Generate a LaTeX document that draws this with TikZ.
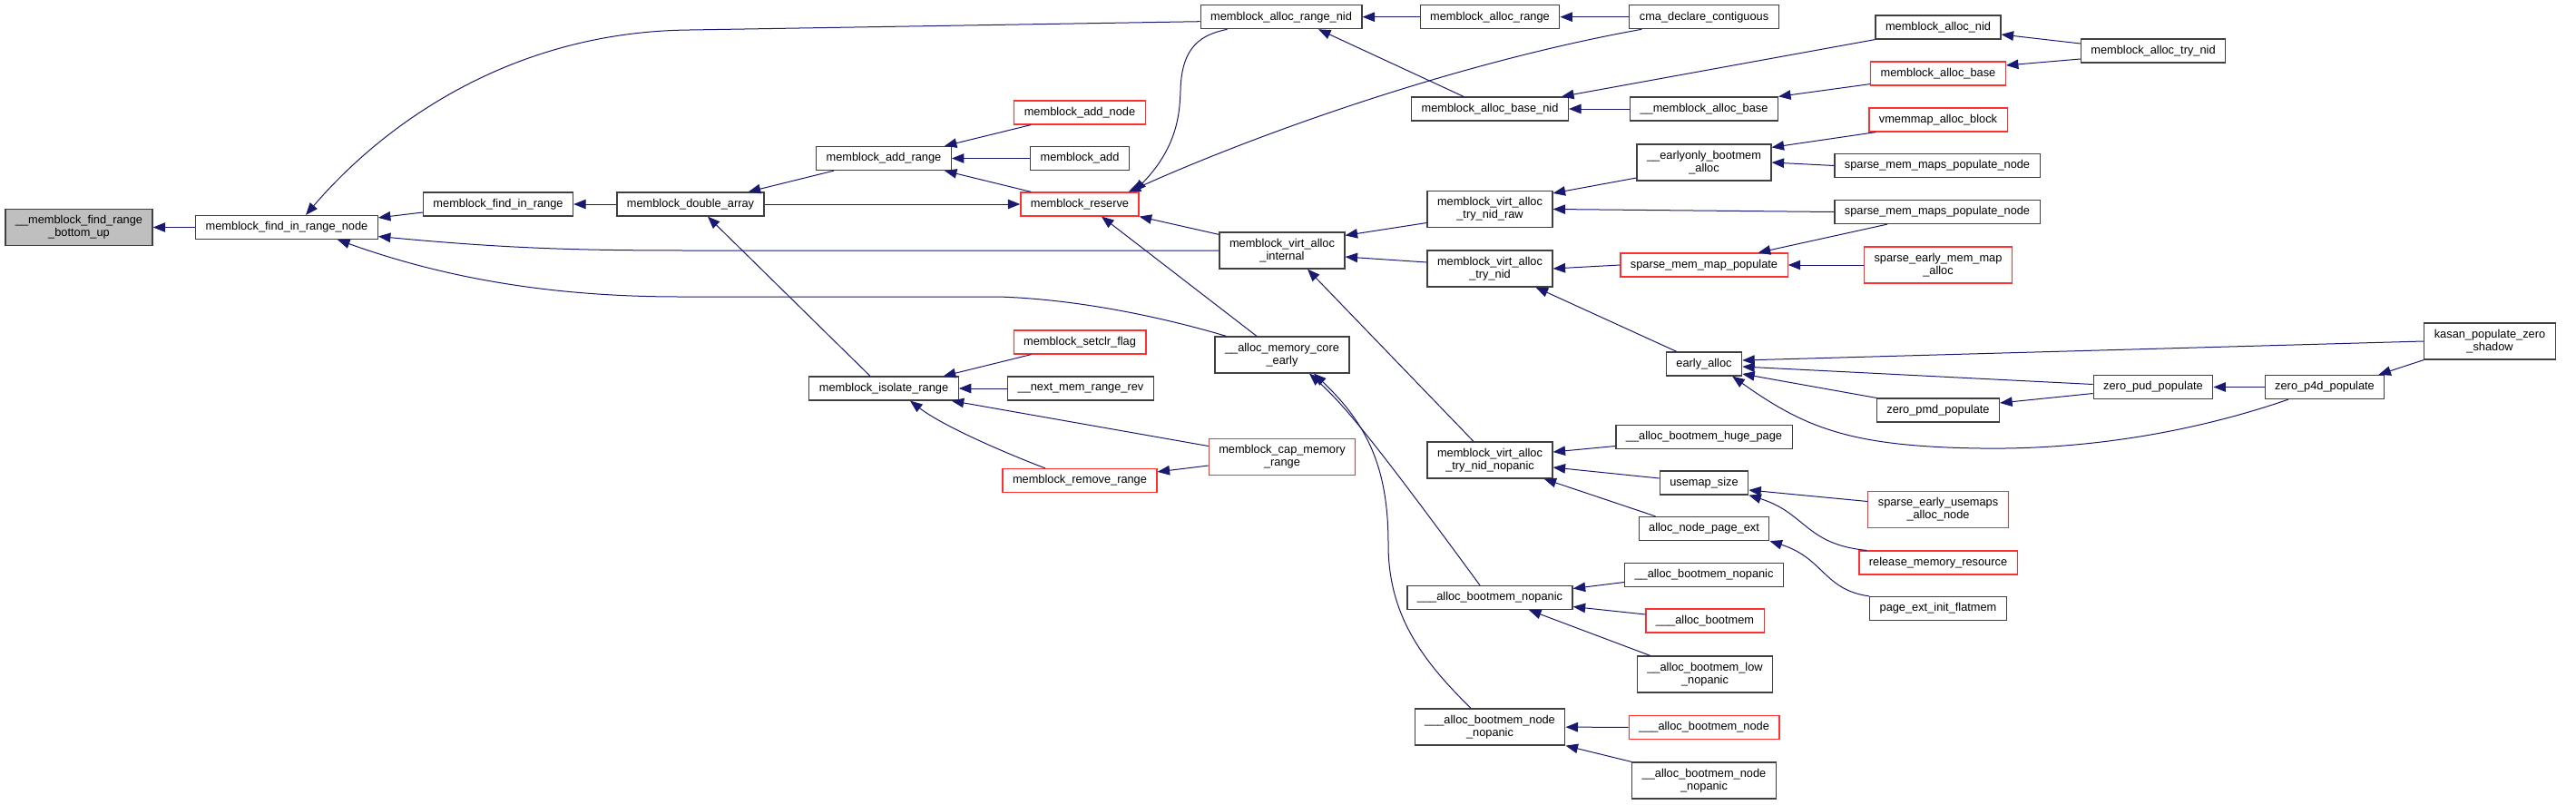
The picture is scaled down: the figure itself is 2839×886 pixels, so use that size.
\documentclass[tikz,border=0pt]{standalone}
\usepackage{fontspec}
\setmainfont{Liberation Sans}
\usepackage{tikz}
\usetikzlibrary{arrows.meta}

\definecolor{edgeblue}{HTML}{191970}
\definecolor{boxline}{HTML}{404040}
\definecolor{boxred}{HTML}{FF3030}
\definecolor{rootgray}{HTML}{BFBFBF}

\begin{document}
\begin{tikzpicture}[x=1pt, y=-1pt,
    fn/.style={draw=boxline, fill=white, line width=1.2pt, inner xsep=11pt, inner ysep=3pt,
        minimum height=26pt, align=center, font=\fontsize{12.8}{14}\selectfont},
    fn2/.style={fn, minimum height=40pt},
    redbox/.style={draw=boxred},
    root/.style={fill=rootgray},
    call/.style={draw=edgeblue, line width=1pt, {Triangle[length=13.5pt,width=10.5pt]}-}]
        \useasboundingbox (0,0) rectangle (2839,886);

        % Functions, column by column
        \node[fn2, root] (bu) at (87,250.5) {\_\_memblock\_find\_range\\\_bottom\_up};
        \node[fn] (frn) at (316,250.5) {memblock\_find\_in\_range\_node};
        \node[fn] (fir) at (549,225) {memblock\_find\_in\_range};
        \node[fn] (dbl) at (761,225) {memblock\_double\_array};
        \node[fn] (addrange) at (974,174.5) {memblock\_add\_range};
        \node[fn] (isolate) at (974,428) {memblock\_isolate\_range};
        \node[fn, redbox] (addnode) at (1190,124) {memblock\_add\_node};
        \node[fn] (add) at (1190,174.5) {memblock\_add};
        \node[fn, redbox] (reserve) at (1190,225) {memblock\_reserve};
        \node[fn, redbox] (setclr) at (1190,377) {memblock\_setclr\_flag};
        \node[fn] (nextmem) at (1191,428) {\_\_next\_mem\_range\_rev};
        \node[fn, redbox] (remove) at (1190,529.5) {memblock\_remove\_range};
        \node[fn] (arn) at (1412,18.7) {memblock\_alloc\_range\_nid};
        \node[fn2] (internal) at (1413,276) {memblock\_virt\_alloc\\\_internal};
        \node[fn2] (coreearly) at (1413,391) {\_\_alloc\_memory\_core\\\_early};
        \node[fn2, redbox] (cap) at (1413,503.5) {memblock\_cap\_memory\\\_range};
        \node[fn] (allocrange) at (1642,18.7) {memblock\_alloc\_range};
        \node[fn] (basenid) at (1642,120) {memblock\_alloc\_base\_nid};
        \node[fn2] (nidraw) at (1642,230.5) {memblock\_virt\_alloc\\\_try\_nid\_raw};
        \node[fn2] (trynid) at (1642,296) {memblock\_virt\_alloc\\\_try\_nid};
        \node[fn2] (nopanic) at (1642,507) {memblock\_virt\_alloc\\\_try\_nid\_nopanic};
        \node[fn] (abnl) at (1642,658.5) {\_\_\_alloc\_bootmem\_nopanic};
        \node[fn2] (abnnl) at (1642,801) {\_\_\_alloc\_bootmem\_node\\\_nopanic};
        \node[fn] (cma) at (1878,18.7) {cma\_declare\_contiguous};
        \node[fn] (mabunder) at (1878,120) {\_\_memblock\_alloc\_base};
        \node[fn2] (earlyonly) at (1878,179) {\_\_earlyonly\_bootmem\\\_alloc};
        \node[fn, redbox] (smp) at (1878,292) {sparse\_mem\_map\_populate};
        \node[fn] (earlyalloc) at (1878,401) {early\_alloc};
        \node[fn] (huge) at (1878,481.5) {\_\_alloc\_bootmem\_huge\_page};
        \node[fn] (usemap) at (1878,532) {usemap\_size};
        \node[fn] (pageext) at (1878,582.5) {alloc\_node\_page\_ext};
        \node[fn] (abnr) at (1878,633.5) {\_\_alloc\_bootmem\_nopanic};
        \node[fn, redbox] (ab) at (1879,684) {\_\_\_alloc\_bootmem};
        \node[fn2] (low) at (1879,743) {\_\_alloc\_bootmem\_low\\\_nopanic};
        \node[fn, redbox] (abnode) at (1878,801.5) {\_\_\_alloc\_bootmem\_node};
        \node[fn2] (abnnr) at (1878,860) {\_\_alloc\_bootmem\_node\\\_nopanic};
        \node[fn] (allocnid) at (2136,30) {memblock\_alloc\_nid};
        \node[fn, redbox] (mab) at (2136,81) {memblock\_alloc\_base};
        \node[fn, redbox] (vmemmap) at (2136,132) {vmemmap\_alloc\_block};
        \node[fn] (smpn1) at (2135,182.5) {sparse\_mem\_maps\_populate\_node};
        \node[fn] (smpn2) at (2135,233.5) {sparse\_mem\_maps\_populate\_node};
        \node[fn2, redbox] (semma) at (2136,292) {sparse\_early\_mem\_map\\\_alloc};
        \node[fn] (pmd) at (2136,452) {zero\_pmd\_populate};
        \node[fn2, redbox] (seuan) at (2136,561.5) {sparse\_early\_usemaps\\\_alloc\_node};
        \node[fn, redbox] (rmr) at (2136,620) {release\_memory\_resource};
        \node[fn] (pei) at (2136,670.5) {page\_ext\_init\_flatmem};
        \node[fn] (trynida) at (2373,56) {memblock\_alloc\_try\_nid};
        \node[fn] (pud) at (2373,426.5) {zero\_pud\_populate};
        \node[fn] (p4d) at (2562,426.5) {zero\_p4d\_populate};
        \node[fn2] (kasan) at (2744,376) {kasan\_populate\_zero\\\_shadow};

        % Calls into the find_in_range part
        \draw[call] (bu) -- (frn);
        \draw[call] ([yshift=-3pt]frn.north east) -- ([yshift=-9pt]fir.west);
        \draw[call] ([xshift=21pt]frn.north) .. controls (420,140) and (560,35) .. (760,33) -- ([yshift=-5pt]arn.west);
        \draw[call] ([yshift=-10pt]frn.east) .. controls (560,274) and (640,276) .. (760,276) -- (internal.west);
        \draw[call] ([xshift=56pt]frn.south) .. controls (500,310) and (620,327) .. (750,327) -- (1100,327)
            .. controls (1200,330) and (1300,355) .. ([xshift=13pt]coreearly.north west);
        \draw[call] (fir) -- (dbl);
        \draw[call] ([xshift=-18pt]dbl.north east) -- ([xshift=20pt]addrange.south west);
        \draw[call] ([xshift=19pt]dbl.south) -- ([xshift=-15pt]isolate.north);
        \draw[call] (reserve) -- (dbl);

        % memblock_add_range and memblock_reserve
        \draw[call] ([xshift=-8pt]addrange.north east) -- ([xshift=19pt]addnode.south west);
        \draw[call] (addrange) -- (add);
        \draw[call] ([xshift=-8pt]addrange.south east) -- ([xshift=12pt]reserve.north west);
        \draw[call] ([xshift=-6pt]reserve.north east) .. controls (1300,160) and (1300,120) .. (1301,100)
            .. controls (1302,50) and (1325,38) .. ([xshift=30pt]arn.south west);
        \draw[call] ([xshift=-12pt]reserve.north east) .. controls (1380,150) and (1600,70) .. ([xshift=14pt]cma.south west);
        \draw[call] (reserve.south east) -- ([yshift=-3pt]internal.north west);
        \draw[call] ([xshift=24pt]reserve.south) -- ([xshift=-28pt]coreearly.north);

        % memblock_alloc_range_nid side
        \draw[call] (arn) -- (allocrange);
        \draw[call] ([xshift=41pt]arn.south) -- ([xshift=-29pt]basenid.north);
        \draw[call] (allocrange) -- (cma);
        \draw[call] ([xshift=-8pt]basenid.north east) -- (allocnid.south west);
        \draw[call] (basenid) -- (mabunder);
        \draw[call] (mabunder.north east) -- ([yshift=2pt]mab.south west);
        \draw[call] ([yshift=-8pt]allocnid.east) -- ([yshift=8pt]trynida.west);
        \draw[call] ([yshift=9pt]mab.east) -- ([yshift=-9pt]trynida.west);

        % memblock_virt_alloc_internal side
        \draw[call] ([yshift=-4pt]internal.north east) -- ([yshift=-15pt]nidraw.west);
        \draw[call] ([yshift=-7pt]internal.east) -- ([yshift=7pt]trynid.west);
        \draw[call] ([xshift=28pt]internal.south) -- ([xshift=-18pt]nopanic.north);
        \draw[call] ([yshift=-3pt]nidraw.north east) -- ([yshift=-17pt]earlyonly.west);
        \draw[call] (nidraw.east) -- (smpn2.west);
        \draw[call] ([yshift=-4pt]earlyonly.north east) -- ([xshift=8pt]vmemmap.south west);
        \draw[call] (earlyonly.east) -- (smpn1.west);
        \draw[call] (trynid.east) -- (smp.west);
        \draw[call] ([xshift=-19pt]trynid.south east) -- ([xshift=12pt]earlyalloc.north west);
        \draw[call] ([xshift=-33pt]smp.north east) -- ([xshift=-55pt]smpn2.south);
        \draw[call] (smp) -- (semma);

        % early_alloc and the zero_*_populate chain
        \draw[call] ([yshift=4pt]earlyalloc.east) -- (kasan.west);
        \draw[call] ([yshift=-3pt]earlyalloc.east) -- ([yshift=3pt]pud.west);
        \draw[call] ([yshift=-11pt]earlyalloc.east) -- (pmd.north west);
        \draw[call] ([xshift=-11pt]earlyalloc.south east) .. controls (1990,472) and (2040,492) .. (2183,494)
            .. controls (2330,496) and (2450,465) .. ([xshift=-40pt]p4d.south);
        \draw[call] ([yshift=8pt]pmd.east) -- ([yshift=-7pt]pud.west);
        \draw[call] (pud) -- (p4d);
        \draw[call] ([xshift=-7pt]p4d.north east) -- (kasan.south west);

        % __alloc_memory_core_early callers
        \draw[call] ([xshift=30pt]coreearly.south) .. controls (1480,445) and (1510,480) .. ([xshift=-11pt]abnl.north);
        \draw[call] ([xshift=35pt]coreearly.south) .. controls (1510,470) and (1530,520) .. (1530,600)
            .. controls (1530,680) and (1570,730) .. ([xshift=-21pt]abnnl.north);

        % memblock_isolate_range callers
        \draw[call] (isolate) -- (nextmem);
        \draw[call] ([xshift=-17pt]isolate.north east) -- ([xshift=20pt]setclr.south west);
        \draw[call] ([xshift=-8pt]isolate.south east) -- ([yshift=12pt]cap.west);
        \draw[call] ([xshift=29pt]isolate.south) .. controls (1040,470) and (1110,500) .. ([xshift=-38pt]remove.north);
        \draw[call] ([yshift=-4pt]remove.north east) -- ([yshift=-9.5pt]cap.west);

        % memblock_virt_alloc_try_nid_nopanic callers
        \draw[call] ([yshift=9pt]nopanic.east) -- ([yshift=-10pt]huge.west);
        \draw[call] ([yshift=-8pt]nopanic.east) -- ([yshift=5pt]usemap.west);
        \draw[call] ([xshift=-10pt]nopanic.south east) -- ([xshift=19pt]pageext.north west);
        \draw[call] ([yshift=-8pt]usemap.east) -- ([yshift=9pt]seuan.west);
        \draw[call] (usemap.south east) .. controls (1990,565) and (1990,600) .. ([xshift=9pt]rmr.north west);
        \draw[call] (pageext.south east) .. controls (2010,615) and (2010,650) .. (pei.north west);

        % bootmem callers
        \draw[call] ([yshift=10pt]abnl.east) -- ([yshift=-8pt]abnr.west);
        \draw[call] ([yshift=-10pt]abnl.east) -- ([yshift=7pt]ab.west);
        \draw[call] ([xshift=43pt]abnl.south) -- ([xshift=15pt]low.north west);
        \draw[call] (abnnl) -- (abnode);
        \draw[call] (abnnl.south east) -- (abnnr.north west);
    \end{tikzpicture}
\end{document}
